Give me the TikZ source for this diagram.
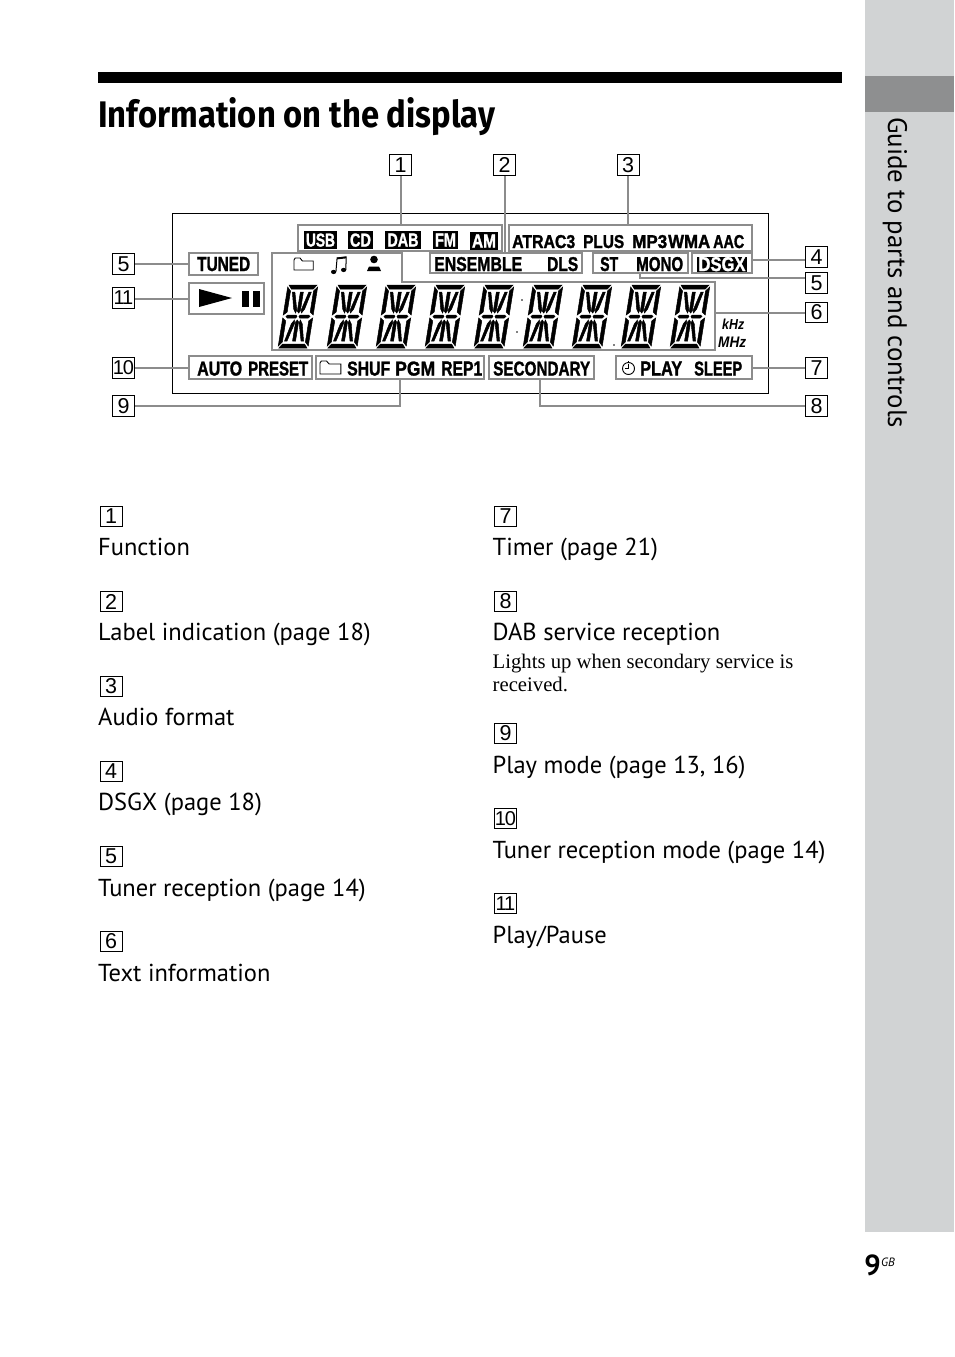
\documentclass[tikz,border=0pt]{standalone}
\usepackage{graphicx}
\usepackage{fontspec}
\setmainfont{PT Sans}
\newfontfamily\lcdfont{Liberation Sans}
\newfontfamily\lcdheavy[FakeBold=1.6]{Liberation Sans Bold}
\newfontfamily\noteserif{Liberation Serif}
\newfontfamily\headfont{Fira Sans}
\definecolor{leadgray}{HTML}{8C8C8C}
\definecolor{sidegray}{HTML}{D1D3D4}
\definecolor{tabgray}{HTML}{8E8F90}
\newcount\lcdn
\newcommand\lcd[5]{% x0, width, yc, height, text
  \global\advance\lcdn by 1
  \node[anchor=base west,inner sep=0pt,name=lcd\the\lcdn] at (#1,#3+#4/2)
    {\resizebox{#2pt}{#4pt}{\lcdheavy #5}};}
\newcommand\chiptxt[7]{%
  \global\advance\lcdn by 1
  \node[anchor=west,inner sep=0pt,fill=black,minimum width=#2pt,minimum height=#4pt,name=chip\the\lcdn] at (#1,#3) {};
  \node[text=white,anchor=base,inner sep=0pt,name=chiptext\the\lcdn] at (#1+#2/2,#3+#6/2)
    {\resizebox{#5pt}{#6pt}{\lcdheavy #7}};}
\newcommand\lcdsegs{%
  \filldraw (1,0)--(29,0)--(26,4)--(4,4)--cycle;
  \filldraw (4,59)--(26,59)--(29,63)--(1,63)--cycle;
  \filldraw (0,2)--(3.5,6)--(3.5,27)--(0,30)--cycle;
  \filldraw (30,2)--(26.5,6)--(26.5,27)--(30,30)--cycle;
  \filldraw (0,33)--(3.5,36)--(3.5,57)--(0,61)--cycle;
  \filldraw (30,33)--(26.5,36)--(26.5,57)--(30,61)--cycle;
  \filldraw (4.5,30)--(13,30)--(14,31.5)--(13,33)--(4.5,33)--(3,31.5)--cycle;
  \filldraw (17,30)--(25.5,30)--(27,31.5)--(25.5,33)--(17,33)--(16,31.5)--cycle;
  \filldraw (13.5,7)--(16.5,7)--(16.5,26)--(15,28)--(13.5,26)--cycle;
  \filldraw (13.5,37)--(15,35)--(16.5,37)--(16.5,56)--(13.5,56)--cycle;
  \filldraw (5.5,7)--(8,7)--(12.8,25)--(12,28)--(9.5,24)--cycle;
  \filldraw (24.5,7)--(22,7)--(17.2,25)--(18,28)--(20.5,24)--cycle;
  \filldraw (12,35)--(12.8,38)--(8,56)--(5.5,56)--(9.5,39)--cycle;
  \filldraw (18,35)--(17.2,38)--(22,56)--(24.5,56)--(20.5,39)--cycle;
}
\newcommand\bodytext[4]{\node[bodylabel,name=#1] at (#2,#3) {#4};}
\newcommand\folder[3]{% x,y top-left, scale
  \draw[line width=.9pt] (#1,#2+2)--(#1,#2+#3)--(#1+1.6*#3,#2+#3)--(#1+1.6*#3,#2+3)--(#1+.7*#3,#2+3)--(#1+.5*#3,#2)--(#1+.1*#3,#2)--cycle;}
\tikzset{
  numbox/.style={draw=black,line width=1pt,minimum width=22pt,minimum height=20.5pt,inner sep=0pt,
     font=\lcdfont\fontsize{21.5}{21.5}\selectfont},
  twonum/.style={numbox,font=\lcdfont\fontsize{20}{20}\selectfont\addfontfeatures{LetterSpace=-6}},
  groupbox/.style={draw=leadgray,line width=2pt,inner sep=0pt},
  leader/.style={draw=leadgray,line width=2pt},
  bodylabel/.style={anchor=base west,inner sep=0pt,font=\fontsize{24.5}{25}\selectfont},
  notelabel/.style={anchor=base west,inner sep=0pt,font=\noteserif\fontsize{20.7}{22}\selectfont},
}
\begin{document}
\begin{tikzpicture}[x=1pt,y=-1pt]
\useasboundingbox (0,0) rectangle (954,1357);
% side band
\fill[sidegray] (865,0) rectangle (954,1232);
\fill[tabgray] (865,76) rectangle (954,112);
\node[rotate=-90,anchor=west,inner sep=0pt,name=sidetitle] at (895,117)
  {\resizebox{311pt}{!}{\fontsize{24}{24}\selectfont Guide to parts and controls}};
\node[anchor=base east,inner sep=0pt,name=pagenum,font=\bfseries\fontsize{29}{29}\selectfont] at (881,1275) {9};
\node[anchor=base west,inner sep=0pt,name=pagegb,font=\itshape\fontsize{12}{12}\selectfont] at (881,1266) {GB};
% heading
\fill[black] (98,72) rectangle (842,83);
\node[anchor=base west,inner sep=0pt,name=heading] at (98,127)
  {\resizebox{397pt}{30pt}{\headfont\bfseries Information on the display}};
% display outline
\node[draw=black,line width=1pt,minimum width=596pt,minimum height=180pt,inner sep=0pt,name=display] at (470,303) {};
% number boxes of the figure
\node[numbox] (n1) at (400.5,165) {1};
\node[numbox] (n2) at (504.5,165) {2};
\node[numbox] (n3) at (628,165) {3};
\node[numbox] (n4) at (816.5,257) {4};
\node[numbox] (n5r) at (816.5,283) {5};
\node[numbox] (n6) at (816.5,312.5) {6};
\node[numbox] (n7) at (816.5,368) {7};
\node[numbox] (n8) at (816.5,406) {8};
\node[numbox] (n5l) at (123.5,264) {5};
\node[twonum] (n11) at (123.5,298) {11};
\node[twonum] (n10) at (123.5,368) {10};
\node[numbox] (n9) at (123.5,406) {9};
% grey groups
\node[groupbox,minimum width=204pt,minimum height=26pt] (gfunc) at (400,238) {};
\node[groupbox,minimum width=243pt,minimum height=26pt] (gaudio) at (630.5,238) {};
\node[groupbox,minimum width=69pt,minimum height=22pt] (gtuned) at (223.5,264) {};
\node[groupbox,minimum width=75pt,minimum height=31pt] (gplay) at (226.5,298.5) {};
\node[groupbox,minimum width=152pt,minimum height=20pt] (gens) at (506,263) {};
\node[groupbox,minimum width=95pt,minimum height=20pt] (gtuner) at (640.5,263) {};
\node[groupbox,minimum width=60pt,minimum height=20pt] (gdsgx) at (722,263) {};
\node[groupbox,minimum width=123pt,minimum height=23pt] (gauto) at (250.5,367.5) {};
\node[groupbox,minimum width=168pt,minimum height=23pt] (gmode) at (400,367.5) {};
\node[groupbox,minimum width=105pt,minimum height=23pt] (gsec) at (541.5,367.5) {};
\node[groupbox,minimum width=136pt,minimum height=23pt] (gtimer) at (684,367.5) {};
\coordinate (tA) at (272,253);
\coordinate (tB) at (402,253);
\coordinate (tC) at (402,282);
\coordinate (tD) at (715,282);
\coordinate (tE) at (715,350);
\coordinate (tF) at (272,350);
\draw[leader,line join=miter] (tA)--(tB)--(tC)--(tD)--(tE)--(tF)--cycle;
% leaders
\draw[leader] (n1.south) -- (gfunc.north -| n1.south);
\draw[leader] (n2.south) -- (gens.north -| n2.south);
\draw[leader] (n3.south) -- (gaudio.north -| n3.south);
\draw[leader] (gdsgx.east) ++(0,-3) coordinate (d4) -- (d4 -| n4.west);
\coordinate (t5) at (640,273);
\draw[leader] (t5) -- (640,277.5) -- (n5r.west |- 0,277.5);
\coordinate (t6) at (715,312.5);
\draw[leader] (t6) -- (n6.west);
\draw[leader] (gtimer.east) -- (n7.west |- gtimer.east);
\draw[leader] (gsec.south -| 540,0) -- (540,406) -- (n8.west);
\draw[leader] (gmode.south) -- (400,406) -- (n9.east);
\draw[leader] (gauto.west) -- (n10.east |- gauto.west);
\draw[leader] (gplay.west) -- (n11.east |- gplay.west);
\draw[leader] (gtuned.west) -- (n5l.east);
% function chips
\chiptxt{304}{33}{240}{18}{29}{13}{USB}
\chiptxt{348}{25}{240}{18}{21}{13}{CD}
\chiptxt{385}{36}{240}{18}{31}{13}{DAB}
\chiptxt{433}{25}{240}{18}{21}{13}{FM}
\chiptxt{470}{28}{241}{18}{24}{13}{AM}
% audio formats
\lcd{512}{63}{241.5}{13}{ATRAC3}
\lcd{583}{41}{241.5}{13}{PLUS}
\lcd{632}{35}{241.5}{13}{MP3}
\lcd{668}{42}{241.5}{13}{WMA}
\lcd{713}{31}{241.5}{13}{AAC}
% second row
\lcd{197}{53}{264}{14}{TUNED}
\lcd{434}{88}{264}{14}{ENSEMBLE}
\lcd{547}{31}{264}{14}{DLS}
\lcd{600}{18}{264}{14}{ST}
\lcd{636}{47}{264}{14}{MONO}
\chiptxt{697}{50}{264}{15}{47}{14}{DSGX}
% icons above digits
\folder{294}{258}{12}
\node[inner sep=0pt,name=noteicon] at (339,265) {\tikz[x=1pt,y=-1pt,baseline]{\fill (0,16) ellipse (2.6 and 2.1);\fill (10,14) ellipse (2.6 and 2.1);
   \draw[line width=1pt] (2.3,16)--(3.5,2)--(12.5,1)--(12.3,14);\draw[line width=1.8pt] (3.5,2.5)--(12.5,1.5);}};
\fill (374,259.5) circle (3.8);
\fill (367,271) -- (369,266.5) -- (379,266.5) -- (381,271) -- cycle;
% play / pause
\fill (199,289) -- (232,298) -- (199,307) -- cycle;
\fill (242,291) rectangle (249,307);
\fill (253,291) rectangle (260,307);
% digits
\foreach \i in {0,...,8} {
  \begin{scope}[shift={(288+49*\i,285)},xslant=0.16,line width=.5pt]
    \lcdsegs
  \end{scope}
}
\fill (522,300) circle (.8);
\fill (517,332) circle (.8);
\fill (614,345) circle (.8);
% units
\node[anchor=west,inner sep=0pt,name=khz] at (722,324) {\resizebox{22pt}{10.5pt}{\lcdfont\bfseries\itshape kHz}};
\node[anchor=west,inner sep=0pt,name=mhz] at (718,342.5) {\resizebox{28pt}{10.5pt}{\lcdfont\bfseries\itshape MHz}};
% bottom row
\lcd{197}{45}{368.5}{14}{AUTO}
\lcd{248}{60}{368.5}{14}{PRESET}
\folder{320}{361}{13}
\lcd{347}{43}{368.5}{14}{SHUF}
\lcd{395}{40}{368.5}{14}{PGM}
\lcd{441}{41}{368.5}{14}{REP1}
\lcd{493}{97}{368.5}{14}{SECONDARY}
\node[draw=black,circle,line width=.9pt,minimum size=12pt,inner sep=0pt,name=clockicon] at (628.5,368.5) {};
\draw[line width=.9pt] (clockicon.center) -- ++(0,-5) (clockicon.center) -- ++(-3.5,0) (clockicon.north) -- ++(0,-1.5);
\lcd{640}{42}{368.5}{14}{PLAY}
\lcd{694}{48}{368.5}{14}{SLEEP}
% body list, left
\node[numbox] (l1) at (111,516.5) {1};
\bodytext{t1}{98}{555}{Function}
\node[numbox] (l2) at (111,601.5) {2};
\bodytext{t2}{98}{640}{Label indication (page 18)}
\node[numbox] (l3) at (111,686.5) {3};
\bodytext{t3}{98}{725}{Audio format}
\node[numbox] (l4) at (111,771.5) {4};
\bodytext{t4}{98}{810}{DSGX (page 18)}
\node[numbox] (l5) at (111,856.5) {5};
\bodytext{t5x}{98}{896}{Tuner reception (page 14)}
\node[numbox] (l6) at (111,941.5) {6};
\bodytext{t6x}{98}{981}{Text information}
% body list, right
\node[numbox] (r7) at (505.5,516.5) {7};
\bodytext{t7}{492.5}{555}{Timer (page 21)}
\node[numbox] (r8) at (505.5,601.5) {8};
\bodytext{t8}{492.5}{640}{DAB service reception}
\node[notelabel,name=t8a] at (492.5,668) {Lights up when secondary service is};
\node[notelabel,name=t8b] at (492.5,691) {received.};
\node[numbox] (r9) at (505.5,733.5) {9};
\bodytext{t9}{492.5}{773}{Play mode (page 13, 16)}
\node[twonum] (r10) at (505.5,818.5) {10};
\bodytext{t10}{492.5}{858}{Tuner reception mode (page 14)}
\node[twonum] (r11) at (505.5,903.5) {11};
\bodytext{t11}{492.5}{943}{Play/Pause}
\end{tikzpicture}
\end{document}
